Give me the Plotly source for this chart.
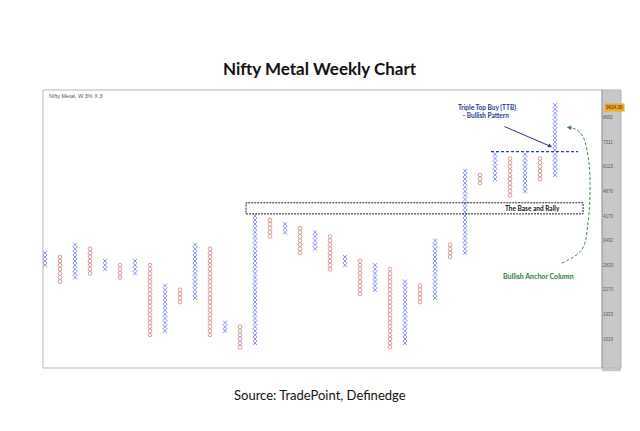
import plotly.graph_objects as go

# point & figure columns (box index, 3% box), alternating X / O
col_type = ["X", "O", "X", "O", "X", "O", "X", "O", "X", "O", "X", "O", "X", "O",
            "X", "O", "X", "O", "X", "O", "X", "O", "X", "O", "X", "O", "X", "O",
            "X", "O", "X", "O", "X", "O", "X"]
col_low = [20, 16, 17, 18, 19, 17, 18, 3, 4, 11, 12, 3, 4, 0,
           1, 27, 28, 23, 24, 19, 20, 13, 14, 0, 1, 11, 12, 22,
           23, 40, 41, 37, 38, 41, 42]
col_high = [23, 22, 25, 24, 21, 20, 21, 20, 15, 14, 25, 24, 6, 5,
            32, 31, 30, 29, 28, 27, 22, 21, 20, 19, 16, 15, 26, 25,
            43, 42, 47, 46, 47, 46, 59]

# right axis labels (box index -> price text)
tick_boxes = [2, 8, 14, 20, 26, 32, 38, 44, 50, 56]
tick_text = ["1619", "1933", "2270", "2839", "3492", "4170", "4876", "6123", "7311", "8692"]
last_box = 58.5
last_price = "9624.36"

xs_x, ys_x, xs_o, ys_o = [], [], [], []
for i, t in enumerate(col_type):
    for b in range(col_low[i], col_high[i] + 1):
        if t == "X":
            xs_x.append(i)
            ys_x.append(b)
        else:
            xs_o.append(i)
            ys_o.append(b)

fig = go.Figure()
fig.add_trace(go.Scatter(x=xs_x, y=ys_x, mode="markers",
                         marker=dict(symbol="x-thin-open", size=4,
                                     line=dict(color="#7e82b4", width=0.8)),
                         hoverinfo="skip"))
fig.add_trace(go.Scatter(x=xs_o, y=ys_o, mode="markers",
                         marker=dict(symbol="circle-open", size=3.7, color="#c98481",
                                     line=dict(color="#c98481", width=0.8)),
                         hoverinfo="skip"))

# bullish anchor curve
curve_x = [34.45, 35.78, 36.2, 36.33, 36.2, 35.87, 35.45, 34.85]
curve_y = [20.5, 23.75, 30.3, 40.8, 46.5, 51.3, 53.0, 53.6]
fig.add_trace(go.Scatter(x=curve_x, y=curve_y, mode="lines",
                         line=dict(color="#3a8a3a", width=1, dash="3px,2px", shape="spline"),
                         hoverinfo="skip"))

band = 19 / 559
shapes = [
    dict(type="rect", xref="paper", yref="paper", x0=1, x1=1 + band, y0=-0.012, y1=1,
         fillcolor="#c8c8c8", line=dict(width=0), layer="below"),
    dict(type="rect", xref="paper", yref="paper", x0=0, x1=1 + band, y0=0, y1=1,
         line=dict(color="#b5b5b5", width=1)),
    dict(type="line", xref="paper", yref="paper", x0=1, x1=1, y0=0, y1=1,
         line=dict(color="#8a8a8a", width=1)),
    # base and rally box
    dict(type="rect", xref="x", yref="y", x0=13.4, x1=35.87, y0=32.5, y1=35.2,
         line=dict(color="#222222", width=1, dash="2px,1px")),
    # triple top line
    dict(type="line", xref="x", yref="y", x0=29.73, x1=35.53, y0=47.7, y1=47.7,
         line=dict(color="#2b3a9a", width=1.3, dash="3px,2px")),
]

annotations = [
    dict(text="<b>Nifty Metal Weekly Chart</b>", xref="paper", yref="paper",
         x=0.496, y=1 + 22 / 278, xanchor="center", yanchor="middle", showarrow=False,
         font=dict(family="Lato", size=17, color="#111111")),
    dict(text="Source: TradePoint, Definedge", xref="paper", yref="paper",
         x=0.496, y=-27 / 278, xanchor="center", yanchor="middle", showarrow=False,
         font=dict(family="Lato", size=13, color="#111111")),
    dict(text="Nifty Metal, W 3% X 3", xref="paper", yref="paper",
         x=0.007, y=0.98, xanchor="left", yanchor="middle", showarrow=False,
         font=dict(family="Liberation Sans", size=5.5, color="#555555")),
    dict(text=last_price, xref="paper", yref="y", x=1.004, y=last_box,
         xanchor="left", yanchor="middle", showarrow=False, bgcolor="#f5a623",
         font=dict(family="Liberation Sans", size=4.5, color="#333333")),
    dict(text="<b>Triple Top Buy (TTB)<br>   - Bullish Pattern</b>", xref="x", yref="y",
         x=29.47, y=57.5, xanchor="center", yanchor="middle", showarrow=False, align="left",
         font=dict(family="Lato", size=6.5, color="#1f3a93")),
    dict(text="", xref="x", yref="y", axref="x", ayref="y",
         x=33.8, y=48.8, ax=30.53, ay=53.95, showarrow=True,
         arrowhead=2, arrowsize=0.8, arrowwidth=1, arrowcolor="#28348f"),
    dict(text="<b>The Base and Rally</b>", xref="x", yref="y", x=32.53, y=33.9,
         xanchor="center", yanchor="middle", showarrow=False,
         font=dict(family="Lato", size=6.5, color="#111111")),
    dict(text="<b>Bullish Anchor Column</b>", xref="x", yref="y", x=32.93, y=17.4,
         xanchor="center", yanchor="middle", showarrow=False,
         font=dict(family="Lato", size=7, color="#2e7d32")),
    dict(text="", xref="x", yref="y", axref="x", ayref="y",
         x=34.78, y=53.6, ax=35.2, ay=53.45, showarrow=True,
         arrowhead=2, arrowsize=0.9, arrowwidth=1, arrowcolor="#3a8a3a"),
]

fig.update_layout(
    width=640, height=431,
    margin=dict(l=43, r=38, t=90, b=63),
    paper_bgcolor="white", plot_bgcolor="white",
    showlegend=False, hovermode=False,
    shapes=shapes, annotations=annotations,
    xaxis=dict(range=[-0.133, 37.13], showgrid=False, zeroline=False,
               showticklabels=False, ticks=""),
    yaxis=dict(range=[-5.07, 62.7], side="right", showgrid=False, zeroline=False,
               tickvals=tick_boxes, ticktext=tick_text, ticks="",
               tickfont=dict(family="Liberation Sans", size=4.5, color="#555555")),
)

# page body has an 8px default margin, drop it so the figure sits at 0,0
fig.write_html("out.html", config={"displayModeBar": False},
               post_script="document.body.style.margin='0';")
